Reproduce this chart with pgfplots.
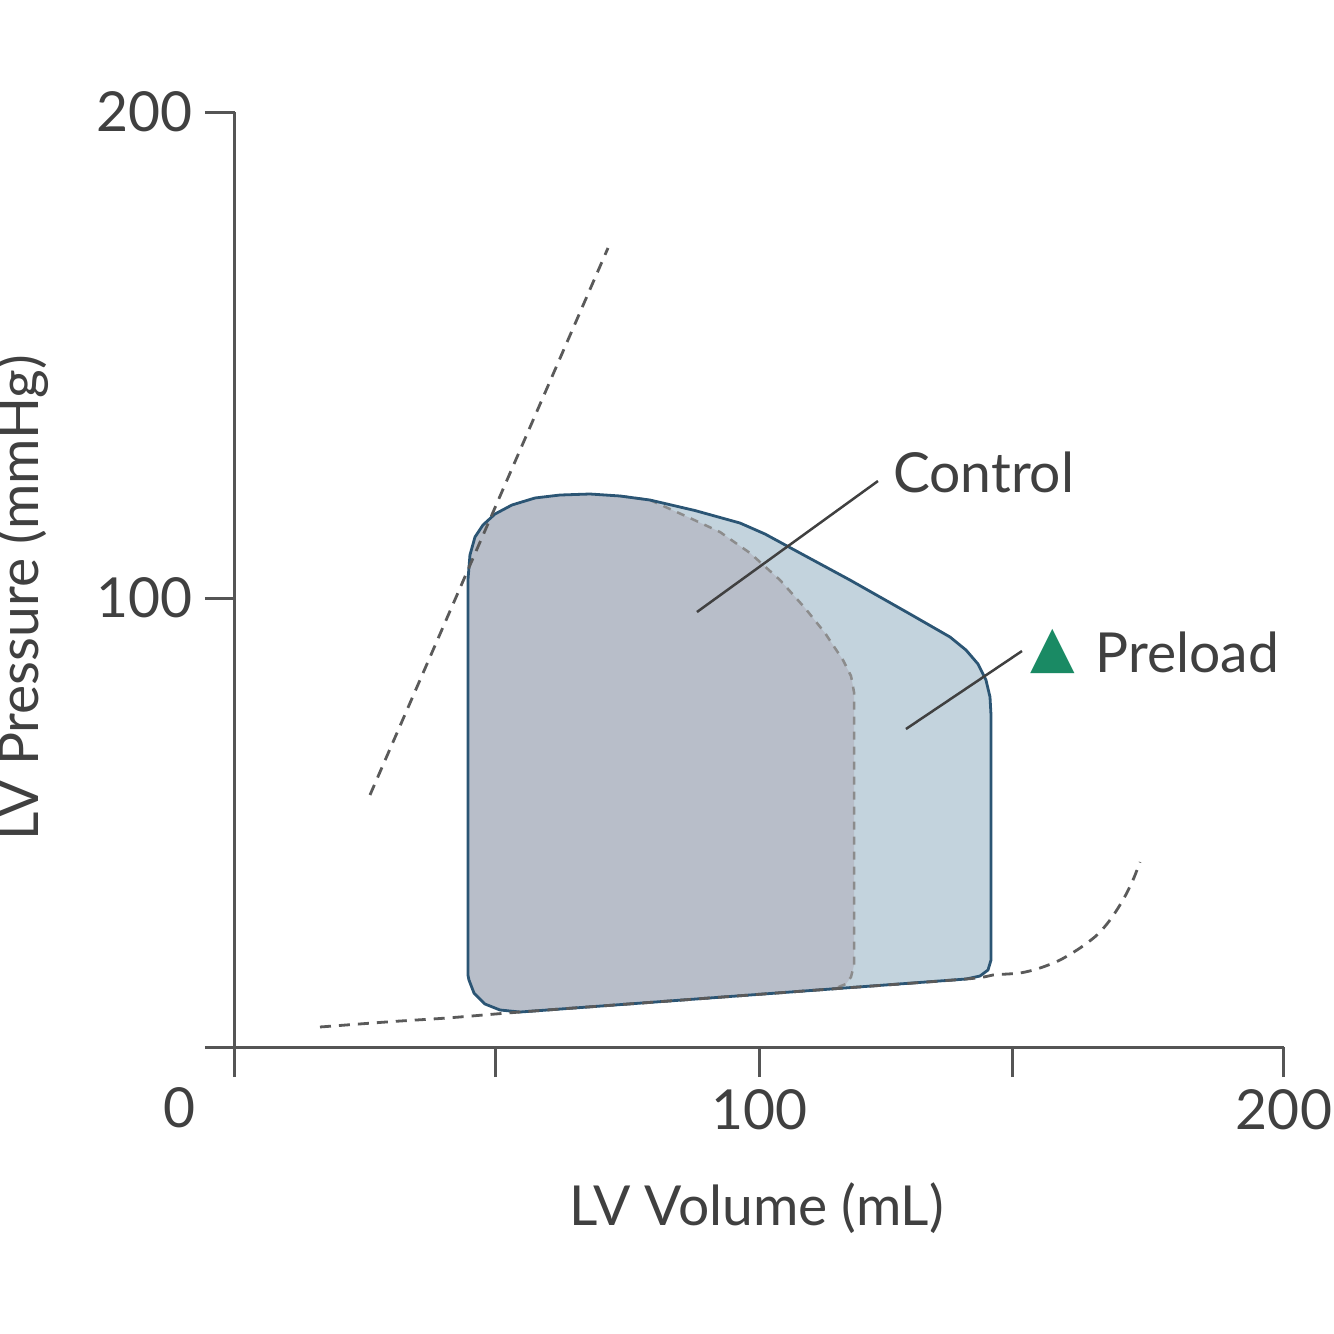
\documentclass[border=0pt]{standalone}
\usepackage{fontspec}
\setmainfont{Lato}
\newfontfamily\symfont{DejaVu Sans}
\usepackage{pgfplots}
\pgfplotsset{compat=1.18}
\definecolor{txt}{HTML}{404040}
\definecolor{axc}{HTML}{555555}
\definecolor{prefill}{HTML}{C3D3DD}
\definecolor{ctlfill}{HTML}{B8BEC9}
\definecolor{outl}{HTML}{2B5574}
\definecolor{dashc}{HTML}{5A5A5A}
\definecolor{ctldash}{HTML}{8C8C8C}
\definecolor{grn}{HTML}{1A8A64}
\begin{document}
\begin{tikzpicture}[font=\fontsize{15.7}{19}\selectfont]
\begin{axis}[
  x=0.5245mm, y=0.486mm,
  xmin=0, xmax=200, ymin=7.6, ymax=200,
  axis lines=left,
  axis line style={-, axc, line width=0.3mm},
  tick style={axc, line width=0.3mm},
  major tick length=3mm, tick align=outside,
  xtick={0,49.6,100,148.2,200}, xticklabels={,,100,,200},
  ytick={7.6,100,200}, yticklabels={,100,200},
  tick label style={text=txt, font=\fontsize{15.7}{19}\selectfont},
  /pgf/number format/assume math mode=true,
  clip=false,
  at={(0,0)}, anchor=south west
]
% Preload loop fill
\addplot[draw=none, fill=prefill] coordinates {
(44.42,22.43) (44.42,103.70) (44.80,108.85) (45.76,112.55) (47.28,115.02)
(49.57,117.28) (52.81,119.14) (57.20,120.58) (61.96,121.19) (67.68,121.40)
(73.40,120.99) (79.12,120.16) (87.70,118.00) (96.28,115.43) (101.05,113.17)
(107.72,109.26) (117.25,103.70) (122.97,100.21) (128.69,96.71) (136.32,91.98) (139.37,89.30) (141.66,86.42)
(143.18,83.13) (143.95,79.63) (144.14,75.93) (144.14,25.51) (143.57,23.46)
(142.04,22.22) (139.37,21.60) (54.34,14.81) (50.52,15.23) (47.66,16.46)
(45.57,18.72) (44.61,21.40)
} -- cycle;
% Control loop fill
\addplot[draw=none, fill=ctlfill] coordinates {
(44.42,22.43) (44.42,103.70) (44.80,108.85) (45.76,112.55) (47.28,115.02)
(49.57,117.28) (52.81,119.14) (57.20,120.58) (61.96,121.19) (67.68,121.40)
(73.40,120.99) (79.12,120.16) (86.75,116.46) (92.47,113.58) (98.19,109.26)
(103.91,103.70) (108.67,97.94) (112.49,92.80) (115.92,87.24) (117.45,83.95)
(118.02,80.66) (118.02,24.49) (117.45,22.02) (116.49,20.58) (114.58,19.75)
(54.34,14.81) (50.52,15.23) (47.66,16.46) (45.57,18.72) (44.61,21.40)
} -- cycle;
% Control outline (dashed)
\addplot[ctldash, line width=0.25mm, dash pattern=on 0.8mm off 0.7mm] coordinates {
(73.40,120.99) (79.12,120.16) (86.75,116.46) (92.47,113.58) (98.19,109.26)
(103.91,103.70) (108.67,97.94) (112.49,92.80) (115.92,87.24) (117.45,83.95)
(118.02,80.66) (118.02,24.49) (117.45,22.02) (116.49,20.58) (114.58,19.75)
};
% Preload outline
\addplot[outl, line width=0.28mm, line join=round] coordinates {
(44.42,22.43) (44.42,103.70) (44.80,108.85) (45.76,112.55) (47.28,115.02)
(49.57,117.28) (52.81,119.14) (57.20,120.58) (61.96,121.19) (67.68,121.40)
(73.40,120.99) (79.12,120.16) (87.70,118.00) (96.28,115.43) (101.05,113.17)
(107.72,109.26) (117.25,103.70) (122.97,100.21) (128.69,96.71) (136.32,91.98) (139.37,89.30) (141.66,86.42)
(143.18,83.13) (143.95,79.63) (144.14,75.93) (144.14,25.51) (143.57,23.46)
(142.04,22.22) (139.37,21.60) (54.34,14.81) (50.52,15.23) (47.66,16.46)
(45.57,18.72) (44.61,21.40)
} -- cycle;
% ESPVR
\addplot[dashc, line width=0.28mm, dash pattern=on 1.1mm off 0.8mm] coordinates {
(25.74,59.47) (71.12,172.02)
};
% EDPVR
\addplot[dashc, line width=0.28mm, dash pattern=on 1.1mm off 0.8mm, smooth] coordinates {
(16.21,11.73) (30.00,12.85) (40.42,13.58) (54.34,14.81) (80.00,16.86) (110.00,19.26)
(139.37,21.60) (144.52,22.43) (149.67,22.84) (153.48,23.87) (157.29,25.51)
(161.11,27.98) (164.35,30.66) (166.83,33.74) (169.30,37.86) (171.21,41.98) (172.55,45.68)
};
% Leader lines
\addplot[txt, line width=0.25mm] coordinates {(88.08,97.12) (122.59,124.07)};
\addplot[txt, line width=0.25mm] coordinates {(127.93,73.05) (150.05,89.09)};
% Labels
\node[anchor=base west, text=txt, inner sep=0] at (axis cs:125.36,121.81) {Control};
\node[anchor=base west, text=txt, inner sep=0] at (axis cs:163.97,84.77) {Preload};
\node[anchor=base west, text=grn, inner sep=0, font=\symfont\fontsize{16.5}{19}\selectfont] at (axis cs:151.6,85.9) {▲};
\node[text=txt, inner sep=0] at (axis cs:-10.49,-4.94) {0};
\node[text=txt, inner sep=0] at (axis cs:99.5,-25.5) {LV Volume (mL)};
\node[text=txt, inner sep=0, rotate=90] at (axis cs:-40.6,100) {LV Pressure (mmHg)};
\coordinate (bl) at (axis cs:-44.80,-51.44);
\coordinate (tr) at (axis cs:209.53,223.05);
\end{axis}
\pgfresetboundingbox
\path[use as bounding box] (bl) rectangle (tr);
\end{tikzpicture}
\end{document}
